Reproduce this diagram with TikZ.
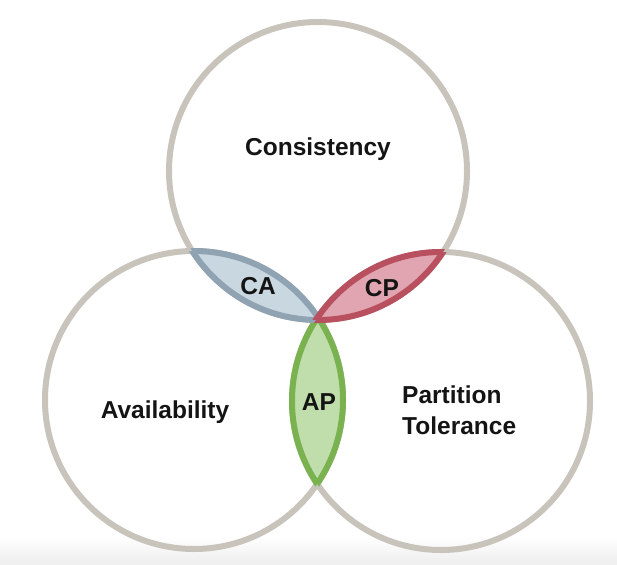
\documentclass[tikz,border=0pt]{standalone}
\usepackage{fontspec}
\setmainfont{Liberation Sans}

\begin{document}
\begin{tikzpicture}[x=1pt,y=1pt,yscale=-1,xscale=1,
  ring/.style={color={rgb, 255:red, 200; green, 196; blue, 188 }, line width=6pt},
  castroke/.style={color={rgb, 255:red, 143; green, 163; blue, 178 }, line width=6pt},
  cpstroke/.style={color={rgb, 255:red, 184; green, 80; blue, 96 }, line width=6pt},
  apstroke/.style={color={rgb, 255:red, 122; green, 178; blue, 80 }, line width=6pt},
  txt/.style={font=\fontsize{24.5}{31}\selectfont\bfseries, text={rgb, 255:red, 20; green, 20; blue, 20 }, inner sep=0pt}]
\useasboundingbox (0,0) rectangle (617,564);

%Shape: Background strip at the bottom
\shade [top color=white, bottom color={rgb, 255:red, 238; green, 238; blue, 238 }] (0,536) rectangle (617,564);

% centres of the three circles
\coordinate (cC) at (318,171);
\coordinate (cA) at (194,400);
\coordinate (cP) at (441,401);

%Shape: Circle [Consistency]
\draw [ring] (cC) circle [radius=149];
%Shape: Circle [Availability]
\draw [ring] (cA) circle [radius=149];
%Shape: Circle [Partition Tolerance]
\draw [ring] (cP) circle [radius=149];

%Shape: Lens [AP]
\begin{scope}
\clip (cA) circle [radius=149];
\fill [fill={rgb, 255:red, 192; green, 222; blue, 172 }] (cP) circle [radius=149];
\draw [apstroke] (cP) circle [radius=149];
\end{scope}
\begin{scope}
\clip (cP) circle [radius=149];
\draw [apstroke] (cA) circle [radius=149];
\end{scope}

%Shape: Lens [CA]
\begin{scope}
\clip (cC) circle [radius=149];
\fill [fill={rgb, 255:red, 201; green, 215; blue, 225 }] (cA) circle [radius=149];
\draw [castroke] (cA) circle [radius=149];
\end{scope}
\begin{scope}
\clip (cA) circle [radius=149];
\draw [castroke] (cC) circle [radius=149];
\end{scope}

%Shape: Lens [CP]
\begin{scope}
\clip (cC) circle [radius=149];
\fill [fill={rgb, 255:red, 224; green, 165; blue, 177 }] (cP) circle [radius=149];
\draw [cpstroke] (cP) circle [radius=149];
\end{scope}
\begin{scope}
\clip (cP) circle [radius=149];
\draw [cpstroke] (cC) circle [radius=149];
\end{scope}

% Text Node
\node [txt, anchor=base] (consistency) at (318,155) {Consistency};
% Text Node
\node [txt, anchor=base] (ca) at (258,294) {CA};
% Text Node
\node [txt, anchor=base] (cp) at (382,296) {CP};
% Text Node
\node [txt, anchor=base] (ap) at (319,410) {AP};
% Text Node
\node [txt, anchor=base] (availability) at (165,418) {Availability};
% Text Node
\node [txt, anchor=west, align=left] (partition) at (402,410) {Partition\\Tolerance};

\end{tikzpicture}
\end{document}
